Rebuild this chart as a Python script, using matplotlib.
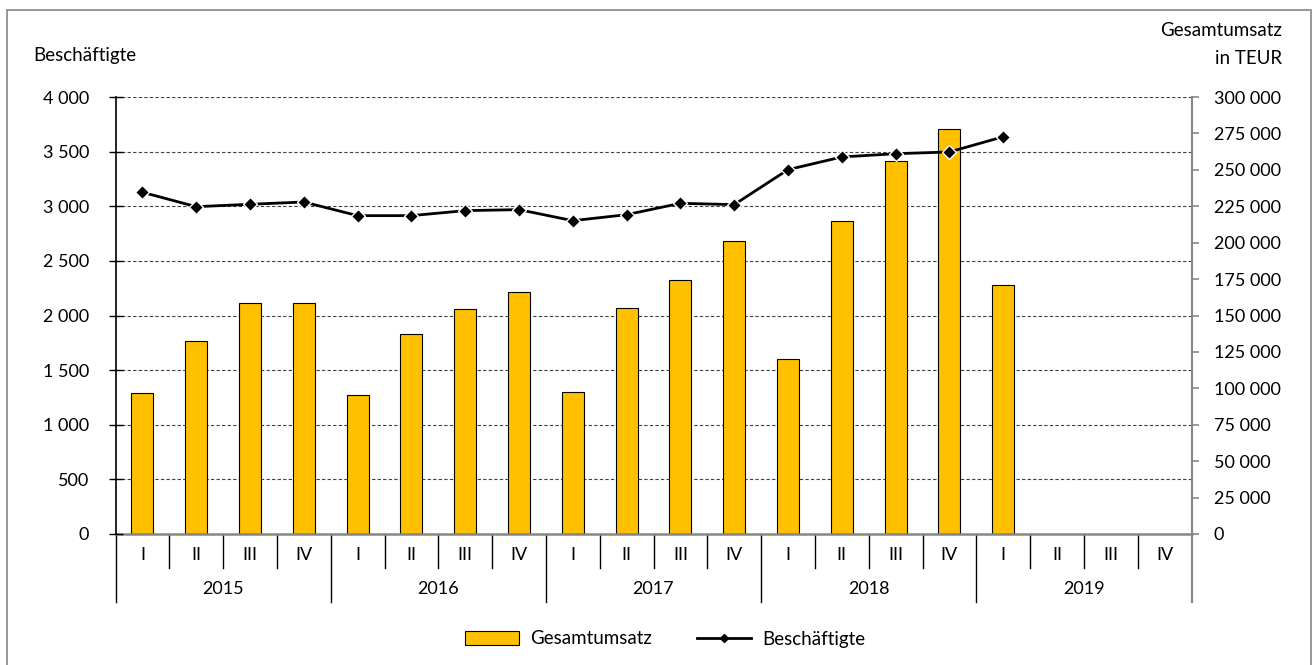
import matplotlib.pyplot as plt
from matplotlib.ticker import FuncFormatter, FixedLocator, MultipleLocator
from matplotlib.lines import Line2D
from matplotlib.patches import Patch, Rectangle
import matplotlib.transforms as mtransforms

plt.rcParams['font.family'] = ['Lato', 'DejaVu Sans']
plt.rcParams['font.size'] = 13

years = ["2015", "2016", "2017", "2018", "2019"]
quarters = ["I", "II", "III", "IV"]

# Gesamtumsatz in TEUR (bars), right axis
umsatz = [96500, 132600, 158500, 158500,
          95300, 137200, 154600, 166300,
          97400, 155200, 174700, 201000,
          120000, 215200, 255900, 278000,
          171000]

# Beschäftigte (line), left axis
beschaeftigte = [3128, 2996, 3018, 3039,
                 2914, 2914, 2960, 2969,
                 2868, 2923, 3027, 3015,
                 3335, 3451, 3481, 3497,
                 3636]

W, H = 1312, 665
fig = plt.figure(figsize=(W / 100, H / 100), dpi=100)

left, right, top, bottom = 115.5, 1191.5, 97, 534
ax = fig.add_axes([left / W, 1 - bottom / H, (right - left) / W, (bottom - top) / H])
ax2 = ax.twinx()

gold = "#FFC000"
grey = "#868686"

fmt = FuncFormatter(lambda v, p: f"{v:,.0f}".replace(",", " "))

# bars on the primary axes, its scale shown on the right
x_bar = list(range(len(umsatz)))
ax.bar(x_bar, umsatz, width=0.41, color=gold, edgecolor="black", linewidth=0.8, zorder=2)
ax.set_ylim(0, 300000)
ax.set_xlim(-0.5, 19.5)
ax.yaxis.tick_right()
ax.yaxis.set_major_locator(MultipleLocator(25000))
ax.yaxis.set_major_formatter(fmt)
ax.tick_params(axis="y", direction="out", length=5, color=grey, width=1.2, pad=11)
ax.tick_params(axis="x", bottom=False, labelbottom=False)

# dashed grid at the steps of the left axis
ax.yaxis.remove_overlapping_locs = False
ax.yaxis.set_minor_locator(FixedLocator([37500 * k for k in range(1, 9)]))
ax.tick_params(axis="y", which="minor", length=0)
ax.grid(axis="y", which="minor", linestyle=(0, (3, 2)), color="#404040", linewidth=0.8, zorder=0)
ax.set_axisbelow(True)

for s in ["top", "left"]:
    ax.spines[s].set_visible(False)
ax.spines["right"].set_color(grey)
ax.spines["right"].set_linewidth(1.5)
ax.spines["bottom"].set_color(grey)
ax.spines["bottom"].set_linewidth(1.8)

# line on the twin axes, scale on the left
ax2.plot(x_bar, beschaeftigte, color="black", linewidth=2.0, marker="D", markersize=7.5,
         markerfacecolor="black", markeredgecolor="white", markeredgewidth=1.0, zorder=3)
ax2.set_ylim(0, 4000)
ax2.yaxis.tick_left()
ax2.yaxis.set_major_locator(MultipleLocator(500))
ax2.yaxis.set_major_formatter(fmt)
ax2.tick_params(axis="y", direction="inout", length=10, color="black", width=1, pad=14)
for s in ["top", "right", "bottom"]:
    ax2.spines[s].set_visible(False)
ax2.spines["left"].set_color("black")
ax2.spines["left"].set_linewidth(1.2)

# two-row category axis below the plot
trans = mtransforms.blended_transform_factory(ax.transData, ax.transAxes)
h = bottom - top
q_low = -(568 - bottom) / h
y_low = -(602 - bottom) / h
for i in range(20):
    ax.text(i, -(555 - bottom) / h, quarters[i % 4], transform=trans, ha="center", va="center")
    if i % 4 != 0:
        ax.plot([i - 0.5, i - 0.5], [0, q_low], transform=trans, color="black", lw=1, clip_on=False)
for j, yr in enumerate(years):
    ax.text(j * 4 + 1.5, -(589 - bottom) / h, yr, transform=trans, ha="center", va="center")
    ax.plot([j * 4 - 0.5, j * 4 - 0.5], [0, y_low], transform=trans, color="black", lw=1, clip_on=False)
ax.plot([19.5, 19.5], [0, y_low], transform=trans, color=grey, lw=1.5, clip_on=False)

# axis titles
fig.text(33 / W, 1 - 55 / H, "Beschäftigte", ha="left", va="center", fontsize=13.5)
fig.text(1282 / W, 1 - 31 / H, "Gesamtumsatz", ha="right", va="center", fontsize=13.5)
fig.text(1282 / W, 1 - 58 / H, "in TEUR", ha="right", va="center", fontsize=13.5)

# legend
handles = [Patch(facecolor=gold, edgecolor="black", linewidth=0.8),
           Line2D([], [], color="black", linewidth=2, marker="D", markersize=4)]
fig.legend(handles, ["Gesamtumsatz", "Beschäftigte"], loc="center", bbox_to_anchor=(0.507, 1 - 639 / H),
           ncol=2, frameon=False, handlelength=2.9, handletextpad=0.6, columnspacing=2.4, fontsize=13.5)

# chart frame
fig.add_artist(Rectangle((7 / W, -0.05), (1311 - 7) / W, 1.05 - 10 / H, fill=False,
                         edgecolor=grey, linewidth=1.2, transform=fig.transFigure))

fig.savefig("out.png", dpi=100)
